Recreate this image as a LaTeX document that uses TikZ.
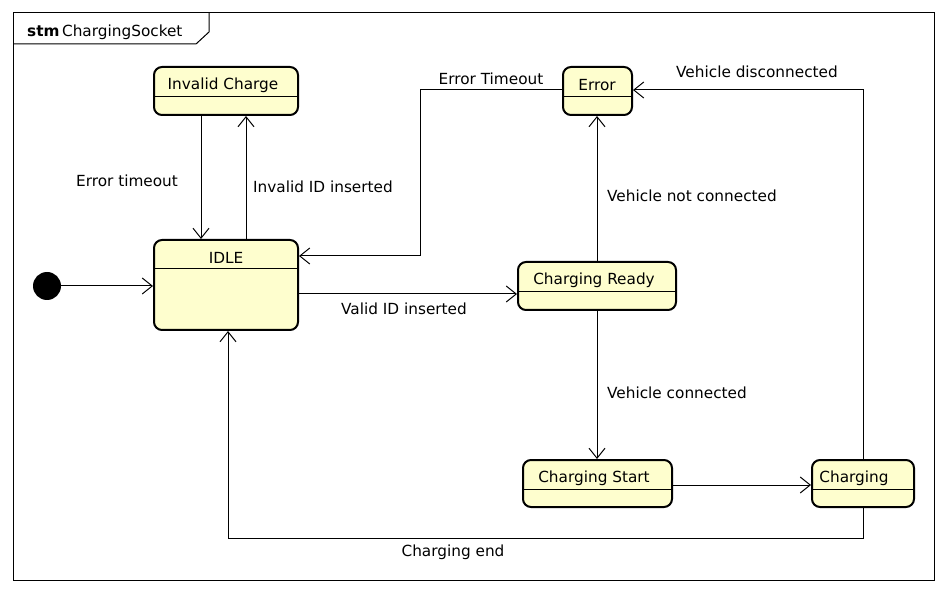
\documentclass[tikz,border=0pt]{standalone}
\usepackage{fontspec}
\setmainfont{DejaVu Sans}
\usetikzlibrary{arrows.meta}
\definecolor{statefill}{HTML}{FEFECE}
\begin{document}
\begin{tikzpicture}[x=1pt,y=-1pt,
  state/.style={draw=black, line width=2pt, fill=statefill, rounded corners=8pt, inner sep=0pt},
  edge/.style={draw=black, line width=1pt, -{Straight Barb[length=10pt,width=16pt,line width=1pt]}},
  divider/.style={draw=black, line width=1pt},
  txt/.style={font=\fontsize{15.3}{17}\selectfont, inner sep=0pt, yshift=-1.5pt},
]
\useasboundingbox (0,0) rectangle (948,593);
% frame
\draw[line width=1pt] (13,13) rectangle (934,580);
\draw[line width=1pt] (13,44) -- (196,44) -- (209,32) -- (209,13);
\node[txt, anchor=base west] (title) at (27,35) {\textbf{stm}\,ChargingSocket};

% states
\node[state, minimum width=144pt, minimum height=48pt] (ic) at (226,91) {};
\draw[divider] (ic.west |- 0,97) -- (ic.east |- 0,97);
\node[txt] (ict) at (223,84) {Invalid Charge};

\node[state, minimum width=144pt, minimum height=90pt] (idle) at (226,285) {};
\draw[divider] (idle.west |- 0,269) -- (idle.east |- 0,269);
\node[txt] (idlet) at (226,256) {IDLE};

\node[state, minimum width=69pt, minimum height=48pt] (err) at (597.5,91) {};
\draw[divider] (err.west |- 0,97) -- (err.east |- 0,97);
\node[txt] (errt) at (597,84) {Error};

\node[state, minimum width=158pt, minimum height=48pt] (cr) at (597,286) {};
\draw[divider] (cr.west |- 0,292) -- (cr.east |- 0,292);
\node[txt] (crt) at (594,279) {Charging Ready};

\node[state, minimum width=149pt, minimum height=47pt] (cs) at (597.5,483.5) {};
\draw[divider] (cs.west |- 0,489) -- (cs.east |- 0,489);
\node[txt] (cst) at (594,477) {Charging Start};

\node[state, minimum width=102pt, minimum height=47pt] (ch) at (863,483.5) {};
\draw[divider] (ch.west |- 0,489) -- (ch.east |- 0,489);
\node[txt] (cht) at (854,477) {Charging};

% initial
\node[circle, fill=black, minimum size=28pt, inner sep=0pt] (init) at (47,286) {};

% edges
\draw[edge] (init) -- (idle.west |- init);
\draw[edge] (201,0 |- ic.south) -- (201,0 |- idle.north);
\draw[edge] (246,0 |- idle.north) -- (246,0 |- ic.south);
\draw[edge] (err.west |- 0,90) -- (420,90) -- (420,256) -- (idle.east |- 0,256);
\draw[edge] (597,0 |- cr.north) -- (597,0 |- err.south);
\draw[edge] (idle.east |- 0,294) -- (cr.west |- 0,294);
\draw[edge] (597,0 |- cr.south) -- (597,0 |- cs.north);
\draw[edge] (cs.east |- 0,485) -- (ch.west |- 0,485);
\draw[edge] (ch.north) -- (863,90) -- (err.east |- 0,90);
\draw[edge] (ch.south) -- (863,538) -- (228,538) -- (228,0 |- idle.south);

% labels
\node[txt] (l1) at (127,179) {Error timeout};
\node[txt] (l2) at (323,185) {Invalid ID inserted};
\node[txt] (l3) at (491,77) {Error Timeout};
\node[txt] (l4) at (757,70) {Vehicle disconnected};
\node[txt] (l5) at (692,194) {Vehicle not connected};
\node[txt] (l6) at (404,307) {Valid ID inserted};
\node[txt] (l7) at (677,391) {Vehicle connected};
\node[txt] (l8) at (453,551) {Charging end};
\end{tikzpicture}
\end{document}
